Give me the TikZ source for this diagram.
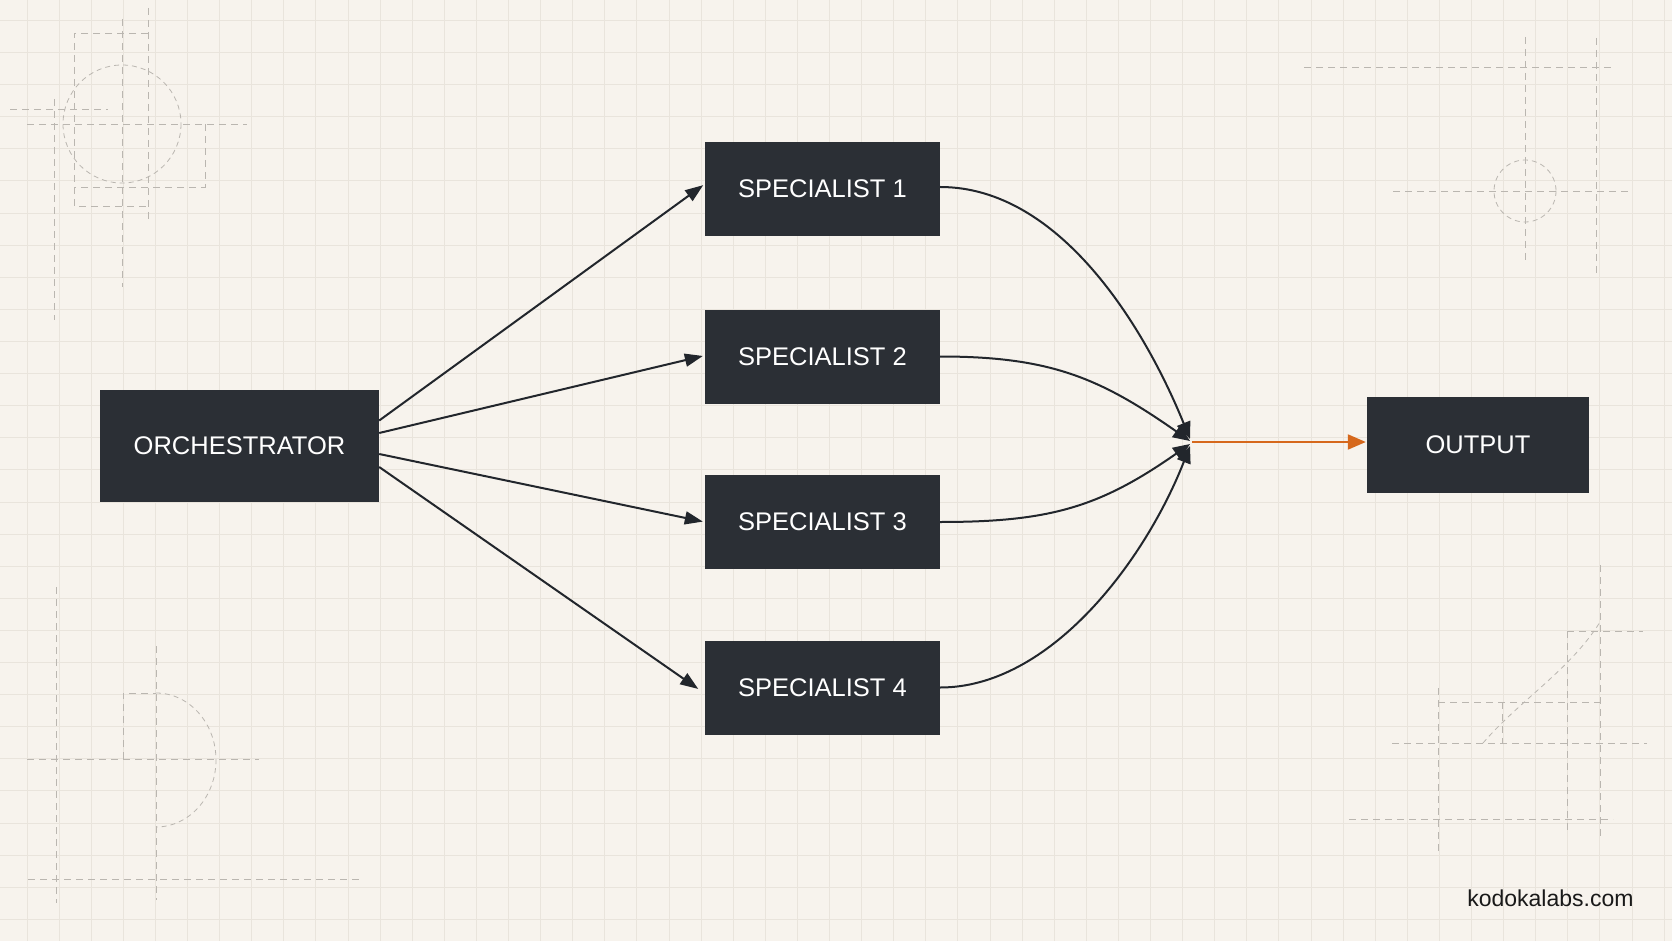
\documentclass[tikz,border=0pt]{standalone}
\usepackage{fontspec}
\setmainfont{Liberation Sans}
\usetikzlibrary{arrows.meta}
\definecolor{bgc}{RGB}{247,243,237}
\definecolor{gridc}{RGB}{233,228,220}
\definecolor{decoc}{RGB}{186,182,176}
\definecolor{boxc}{RGB}{43,47,53}
\definecolor{linec}{RGB}{34,38,44}
\definecolor{orangec}{RGB}{214,104,28}
\begin{document}
\begin{tikzpicture}[x=1pt,y=-1pt,
  gridline/.style={draw=gridc,line width=1pt},
  decoline/.style={draw=decoc,line width=0.9pt,dash pattern=on 7pt off 5pt},
  decofine/.style={draw=decoc,line width=0.8pt,dash pattern=on 5pt off 4pt},
  darkbox/.style={fill=boxc,text=white,inner sep=0pt,font=\fontsize{25.5}{30}\selectfont},
  specbox/.style={darkbox,minimum width=235pt,minimum height=94pt},
  conn/.style={draw=linec,line width=2pt,-{Triangle[length=18pt,width=13pt]}},
  mergeconn/.style={draw=linec,line width=2pt,-{Triangle[length=17pt,width=14pt]}},
  outconn/.style={draw=orangec,line width=2pt,-{Triangle[length=18pt,width=15pt]}}
]
\useasboundingbox (0,0) rectangle (1672,941);
\fill[bgc] (0,0) rectangle (1672,941);
% grid
\foreach \i in {0,...,51} \draw[gridline] ({27+32.1*\i},0) -- ({27+32.1*\i},941);
\foreach \j in {0,...,28} \draw[gridline] (0,{20.5+32.1*\j}) -- (1672,{20.5+32.1*\j});

% construction decorations: top-left
\draw[decoline] (148,33) -- (74,33) -- (74,206) -- (148,206);
\draw[decoline] (148,8) -- (148,223);
\draw[decoline] (27,124) -- (247,124);
\draw[decoline] (205,124) -- (205,187) -- (74,187);
\draw[decofine] (122,124) circle[radius=59];
\draw[decoline] (122,19) -- (122,287);
\draw[decoline] (54,99) -- (54,320);
\draw[decoline] (10,109) -- (108,109);
% top-right
\draw[decoline] (1304,67) -- (1613,67);
\draw[decoline] (1525,37) -- (1525,260);
\draw[decoline] (1596,38) -- (1596,277);
\draw[decoline] (1393,191) -- (1632,191);
\draw[decofine] (1525,191) circle[radius=31];
% bottom-left
\draw[decoline] (56,587) -- (56,903);
\draw[decoline] (156,646) -- (156,900);
\draw[decoline] (27,759) -- (259,759);
\draw[decoline] (28,879) -- (360,879);
\draw[decofine] (156,693) arc[start angle=-90,end angle=90,x radius=60,y radius=67];
\draw[decoline] (123,759) -- (123,693) -- (156,693);
% bottom-right
\draw[decoline] (1600,565) -- (1600,837);
\draw[decoline] (1567,631) -- (1643,631);
\draw[decoline] (1567,631) -- (1567,833);
\draw[decoline] (1438,702) -- (1600,702);
\draw[decoline] (1438,688) -- (1438,855);
\draw[decoline] (1392,743) -- (1647,743);
\draw[decoline] (1349,819) -- (1613,819);
\draw[decoline] (1502,702) -- (1502,743);
\draw[decofine] (1483,743) .. controls (1520,700) and (1570,670) .. (1600,622);

% nodes
\node[darkbox,minimum width=279pt,minimum height=112pt] (orch) at (239.5,446) {ORCHESTRATOR};
\node[specbox] (s1) at (822.5,189) {SPECIALIST 1};
\node[specbox] (s2) at (822.5,356.5) {SPECIALIST 2};
\node[specbox] (s3) at (822.5,522) {SPECIALIST 3};
\node[specbox] (s4) at (822.5,687.5) {SPECIALIST 4};
\node[darkbox,minimum width=222pt,minimum height=96pt] (out) at (1478,445) {OUTPUT};
\coordinate (m) at (1190,442);
\node[anchor=base east,text={rgb,255:red,25;green,25;blue,25},font=\fontsize{23}{26}\selectfont] (wm) at (1637,906) {kodokalabs.com};

% fan-out
\draw[conn,shorten >=2pt] ([yshift=25.5pt]orch.east) -- ([yshift=5pt]s1.west);
\draw[conn,shorten >=2pt] ([yshift=13pt]orch.east) -- ([yshift=1pt]s2.west);
\draw[conn,shorten >=2pt] ([yshift=-8pt]orch.east) -- ([yshift=0pt]s3.west);
\draw[conn,shorten >=8pt] ([yshift=-21pt]orch.east) -- ([yshift=-6pt]s4.west);

% merge
\draw[mergeconn] ([yshift=2pt]s1.east) .. controls +(120,0) and +(-45,-111) .. ([yshift=3pt]m);
\draw[mergeconn] (s2.east) .. controls +(110,0) and +(-90,-63) .. ([yshift=1pt]m);
\draw[mergeconn] (s3.east) .. controls +(110,0) and +(-90,63) .. ([yshift=-2pt]m);
\draw[mergeconn] (s4.east) .. controls +(110,0) and +(-45,115) .. ([yshift=-4pt]m);

% output
\draw[outconn,shorten >=1pt] ([xshift=2pt]m) -- (m -| out.west);
\end{tikzpicture}
\end{document}
